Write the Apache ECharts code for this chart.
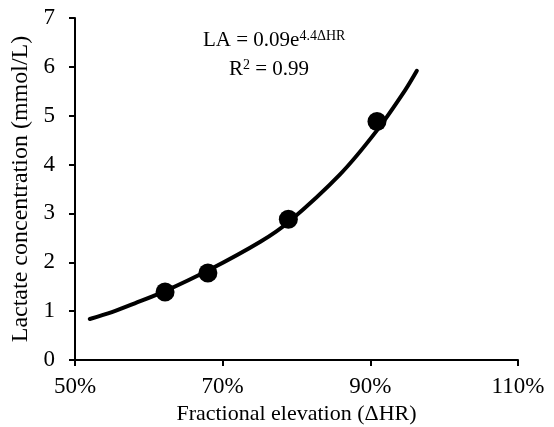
<!DOCTYPE html>
<html>
<head>
<meta charset="utf-8">
<script src="https://cdn.jsdelivr.net/npm/echarts@6/dist/echarts.min.js"></script>
<style>
  html, body { margin: 0; padding: 0; background: #fff; }
  #chart { width: 554px; height: 427px; }
</style>
</head>
<body>
<div id="chart"></div>
<script>
// measured points: fractional elevation (%) and lactate (mmol/L)
var pointX = [62.2, 68.0, 78.9, 90.9];
var pointY = [1.39, 1.78, 2.88, 4.88];

// exponential trendline
var trendX = [52.0, 55.0, 58.1, 62.2, 68.0, 75.1, 78.9, 85.9, 90.9, 94.7, 96.3];
var trendY = [0.84, 0.98, 1.16, 1.41, 1.83, 2.42, 2.82, 3.80, 4.70, 5.52, 5.92];

var xTicks = [50, 70, 90, 110];

var font = 'Liberation Serif';

var chart = echarts.init(document.getElementById('chart'));

var option = {
  animation: false,
  grid: { left: 75, right: 36, top: 18, bottom: 67, containLabel: false, outerBoundsMode: 'none' },
  xAxis: {
    type: 'value',
    min: xTicks[0],
    max: xTicks[xTicks.length - 1],
    interval: 20,
    name: 'Fractional elevation (\u0394HR)',
    nameLocation: 'middle',
    nameGap: 40,
    nameTextStyle: { fontFamily: font, fontSize: 22, color: '#000' },
    axisLine: { lineStyle: { color: '#000', width: 2 } },
    axisTick: { lineStyle: { color: '#000', width: 2 }, length: 6 },
    axisLabel: { formatter: '{value}%', fontFamily: font, fontSize: 23, color: '#000', margin: 15 },
    splitLine: { show: false }
  },
  yAxis: {
    type: 'value',
    min: 0,
    max: 7,
    interval: 1,
    name: 'Lactate concentration (mmol/L)',
    nameLocation: 'middle',
    nameGap: 31,
    nameTextStyle: { fontFamily: font, fontSize: 24, color: '#000' },
    axisLine: { show: true, lineStyle: { color: '#000', width: 2 } },
    axisTick: { show: true, lineStyle: { color: '#000', width: 2 }, length: 6 },
    axisLabel: { fontFamily: font, fontSize: 23, color: '#000', margin: 20 },
    splitLine: { show: false }
  },
  graphic: [
    {
      type: 'text',
      left: 203,
      top: 29,
      style: {
        text: '{m|LA = 0.09e}{s|4.4\u0394HR}',
        rich: {
          m: { fontFamily: font, fontSize: 21, fill: '#000' },
          s: { fontFamily: font, fontSize: 14, fill: '#000', verticalAlign: 'top', padding: [0, 0, 8, 0] }
        }
      }
    },
    {
      type: 'text',
      left: 229,
      top: 58,
      style: {
        text: '{m|R}{s|2}{m| = 0.99}',
        rich: {
          m: { fontFamily: font, fontSize: 21, fill: '#000' },
          s: { fontFamily: font, fontSize: 14, fill: '#000', padding: [0, 0, 8, 0] }
        }
      }
    }
  ],
  series: [
    {
      name: 'trend',
      type: 'line',
      smooth: 0.3,
      symbol: 'none',
      lineStyle: { color: '#000', width: 4, cap: 'round' },
      data: trendX.map(function (x, i) { return [x, trendY[i]]; }),
      z: 2
    },
    {
      name: 'lactate',
      type: 'scatter',
      symbolSize: 19,
      itemStyle: { color: '#000', opacity: 1 },
      data: pointX.map(function (x, i) { return [x, pointY[i]]; }),
      z: 3
    }
  ]
};

chart.setOption(option);
</script>
</body>
</html>
